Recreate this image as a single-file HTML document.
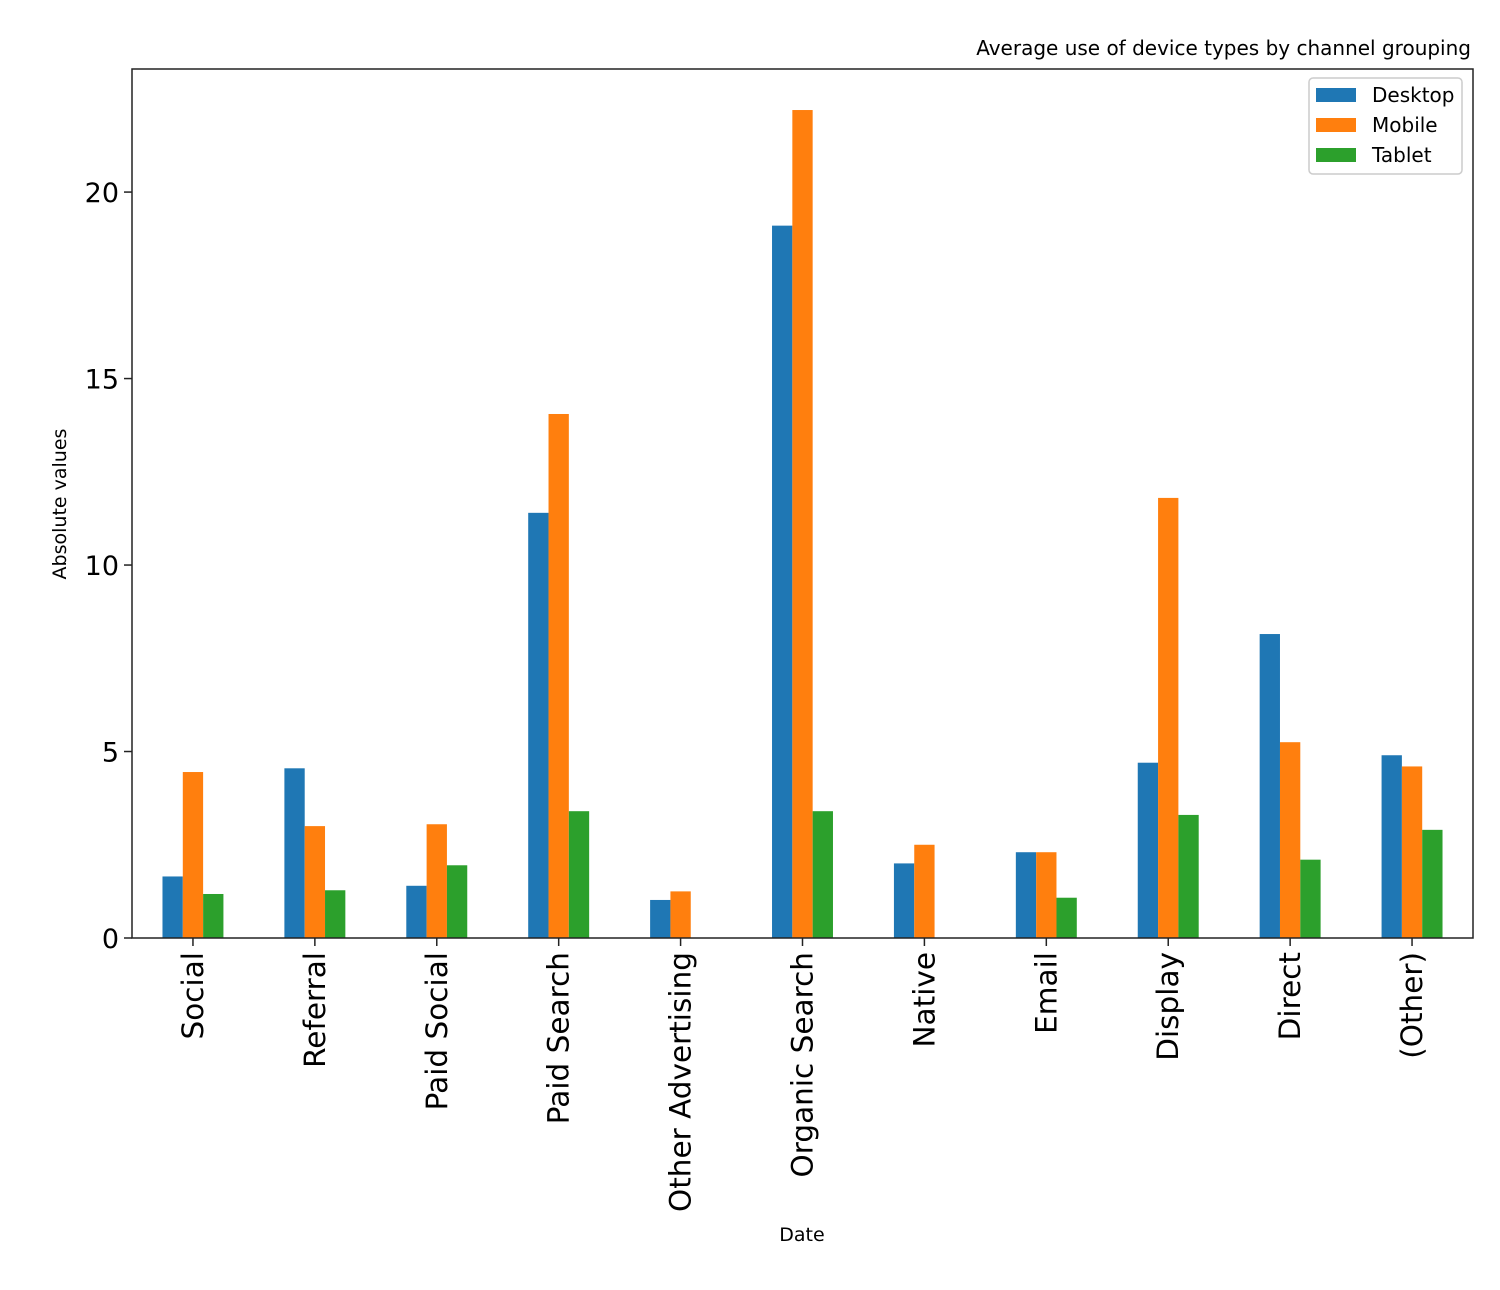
<!DOCTYPE html>
<html><head><meta charset="utf-8"><style>
body{margin:0;background:#fff;font-family:"DejaVu Sans","Liberation Sans",sans-serif}
</style></head><body>
<svg id="chart" width="1500" height="1286" xmlns="http://www.w3.org/2000/svg" font-family="DejaVu Sans, Liberation Sans, sans-serif">
<text x="1471" y="55" font-size="20" text-anchor="end" fill="#000">Average use of device types by channel grouping</text>
<text transform="translate(66,504) rotate(-90)" font-size="19" text-anchor="middle">Absolute values</text>
<text x="802" y="1241" font-size="19" text-anchor="middle">Date</text>
<g id="bars"></g><g id="ticks"></g>
<rect x="132" y="69" width="1341" height="869" fill="none" stroke="#222" stroke-width="1.5"/>
<g>
<rect x="1309" y="78" width="153" height="96" rx="4" fill="#fff" stroke="#ccc" stroke-width="1.5"/>
<rect x="1316" y="88" width="40" height="14" fill="#1f77b4"/>
<text x="1372" y="102" font-size="20">Desktop</text>
<rect x="1316" y="118" width="40" height="14" fill="#ff7f0e"/>
<text x="1372" y="132" font-size="20">Mobile</text>
<rect x="1316" y="148" width="40" height="14" fill="#2ca02c"/>
<text x="1372" y="162" font-size="20">Tablet</text>
</g>
</svg>
<script>
const categories=["Social","Referral","Paid Social","Paid Search","Other Advertising","Organic Search","Native","Email","Display","Direct","(Other)"];
const desktop=[1.65,4.55,1.4,11.4,1.02,19.1,2.0,2.3,4.7,8.15,4.9];
const mobile=[4.45,3.0,3.05,14.05,1.25,22.2,2.5,2.3,11.8,5.25,4.6];
const tablet=[1.18,1.28,1.95,3.4,0,3.4,0,1.08,3.3,2.1,2.9];
const yTicks=[0,5,10,15,20];
const NS="http://www.w3.org/2000/svg";
const L=132,R=1473,T=69,B=938;
const yMin=0,yMax=23.3;
function y(v){return B-(v-yMin)/(yMax-yMin)*(B-T);}
const gw=(R-L)/categories.length;
function xc(i){return L+gw*(i+0.5);}
const bw=gw*0.5/3;
const series=[["desktop",desktop,"#1f77b4"],["mobile",mobile,"#ff7f0e"],["tablet",tablet,"#2ca02c"]];
const bars=document.getElementById('bars'),ticks=document.getElementById('ticks');
series.forEach((s,si)=>{s[1].forEach((v,i)=>{
 const r=document.createElementNS(NS,'rect');
 
 
 r.setAttribute('x',xc(i)-1.5*bw+si*bw);r.setAttribute('width',bw);
 r.setAttribute('y',y(v));r.setAttribute('height',y(0)-y(v));r.setAttribute('fill',s[2]);
 bars.appendChild(r);
});});
yTicks.forEach(t=>{
 const l=document.createElementNS(NS,'line');
 
 
 l.setAttribute('x1',L-8);l.setAttribute('x2',L);l.setAttribute('y1',y(t));l.setAttribute('y2',y(t));l.setAttribute('stroke','#222');l.setAttribute('stroke-width','1.5');
 ticks.appendChild(l);
 const tx=document.createElementNS(NS,'text');
 
 
 tx.setAttribute('x',L-13);tx.setAttribute('y',y(t)+10);tx.setAttribute('text-anchor','end');tx.setAttribute('font-size','27');
 tx.textContent=t;ticks.appendChild(tx);
});
categories.forEach((c,i)=>{
 const l=document.createElementNS(NS,'line');
 
 
 l.setAttribute('x1',xc(i));l.setAttribute('x2',xc(i));l.setAttribute('y1',B);l.setAttribute('y2',B+8);l.setAttribute('stroke','#222');l.setAttribute('stroke-width','1.5');
 ticks.appendChild(l);
 const tx=document.createElementNS(NS,'text');
 
 
 tx.setAttribute('transform','translate('+(xc(i)+10)+','+(B+14)+') rotate(-90)');
 tx.setAttribute('text-anchor','end');tx.setAttribute('font-size','29.5');
 tx.textContent=c;ticks.appendChild(tx);
});
</script>
</body></html>
